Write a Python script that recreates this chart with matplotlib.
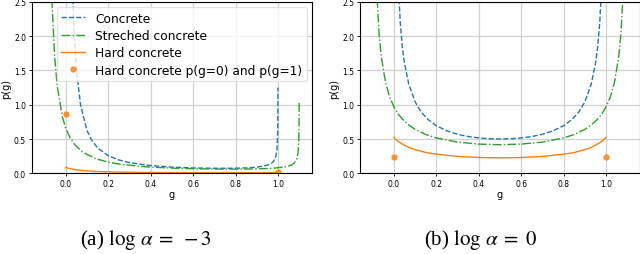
import matplotlib
matplotlib.use("Agg")
import matplotlib.pyplot as plt

plt.rcParams['font.family'] = ['DejaVu Sans']
plt.rcParams['mathtext.fontset'] = 'stix'

# ---------------- panel (a): log alpha = -3 ----------------
a_conc_g = [0.025, 0.03, 0.04, 0.05, 0.07, 0.10, 0.12, 0.15, 0.20, 0.25, 0.30, 0.40,
            0.50, 0.60, 0.70, 0.80, 0.85, 0.90, 0.95, 0.97, 0.98, 0.99, 0.995,
            0.998, 0.999, 0.9995, 0.9996]
a_conc_p = [3.71, 2.96, 2.05, 1.54, 1.00, 0.628, 0.496, 0.371, 0.258, 0.195, 0.156, 0.113,
            0.090, 0.078, 0.073, 0.074, 0.079, 0.089, 0.118, 0.148, 0.179, 0.250, 0.352,
            0.556, 0.785, 1.11, 1.25]

a_str_g = [-0.076, -0.07, -0.064, -0.052, -0.04, -0.016, 0.0, 0.02, 0.044, 0.08, 0.14,
           0.20, 0.26, 0.38, 0.50, 0.62, 0.74, 0.86, 0.92, 0.98, 1.04, 1.064, 1.076,
           1.088, 1.094, 1.0976, 1.0988, 1.0994, 1.0995]
a_str_p = [4.08, 3.09, 2.47, 1.71, 1.28, 0.83, 0.663, 0.523, 0.413, 0.309, 0.215,
           0.1625, 0.130, 0.094, 0.075, 0.065, 0.061, 0.062, 0.066, 0.074, 0.098, 0.123, 0.149,
           0.208, 0.293, 0.463, 0.654, 0.925, 1.03]

a_hard_g = [0.0, 0.02, 0.044, 0.08, 0.14, 0.20, 0.26, 0.38, 0.50, 0.62, 0.74, 0.86, 0.92, 0.98, 1.0]
a_hard_p = [0.085, 0.068, 0.054, 0.040, 0.028, 0.021, 0.017, 0.012, 0.0098, 0.0085,
            0.0079, 0.0080, 0.0085, 0.0097, 0.011]

a_pt_g = [0.0, 1.0]
a_pt_p = [0.86, 0.015]

# ---------------- panel (b): log alpha = 0 ----------------
b_conc_g = [0.015, 0.02, 0.03, 0.04, 0.05, 0.07, 0.10, 0.13, 0.16, 0.20, 0.25, 0.30, 0.35,
            0.40, 0.45, 0.50, 0.55, 0.60, 0.65, 0.70, 0.75, 0.80, 0.84, 0.87, 0.90,
            0.93, 0.95, 0.96, 0.97, 0.98, 0.985]
b_conc_p = [3.30, 2.80, 2.19, 1.83, 1.60, 1.30, 1.04, 0.888, 0.787, 0.694, 0.619, 0.569, 0.536,
            0.516, 0.504, 0.500, 0.504, 0.516, 0.536, 0.569, 0.619, 0.694, 0.787, 0.888, 1.04,
            1.30, 1.60, 1.83, 2.19, 2.80, 3.30]

b_str_g = [-0.085, -0.08, -0.07, -0.06, -0.04, -0.02, 0.0, 0.01, 0.02, 0.04, 0.07, 0.10, 0.15,
           0.20, 0.30, 0.40, 0.50, 0.60, 0.70, 0.80, 0.85, 0.90, 0.93, 0.96, 0.98, 0.99, 1.0,
           1.02, 1.04, 1.06, 1.07, 1.08, 1.085]
b_str_p = [3.07, 2.59, 2.03, 1.71, 1.33, 1.11, 0.971, 0.916, 0.867, 0.79, 0.704, 0.64, 0.566,
           0.516, 0.455, 0.426, 0.417, 0.426, 0.455, 0.516, 0.566, 0.64, 0.704, 0.79, 0.867,
           0.916, 0.971, 1.11, 1.33, 1.71, 2.03, 2.59, 3.07]

b_hard_g = [0.0, 0.01, 0.02, 0.04, 0.07, 0.10, 0.15, 0.20, 0.30, 0.40, 0.50, 0.60, 0.70,
            0.80, 0.85, 0.90, 0.93, 0.96, 0.98, 0.99, 1.0]
b_hard_p = [0.525, 0.491, 0.465, 0.427, 0.377, 0.346, 0.303, 0.279, 0.246, 0.230, 0.225,
            0.230, 0.246, 0.279, 0.303, 0.346, 0.377, 0.427, 0.465, 0.491, 0.525]

b_pt_g = [0.0, 1.0]
b_pt_p = [0.232, 0.232]

labels = ["Concrete", "Streched concrete", "Hard concrete", "Hard concrete p(g=0) and p(g=1)"]
captions = [r"(a) $\log\,\alpha\;=\;-3$", r"(b) $\log\,\alpha\;=\;0$"]
xticks = [0.0, 0.2, 0.4, 0.6, 0.8, 1.0]
yticks = [0.0, 0.5, 1.0, 1.5, 2.0, 2.5]

fig = plt.figure(figsize=(6.4, 2.55), dpi=100)
ax1 = fig.add_axes([0.0495, 0.3165, 0.438, 0.672])
ax2 = fig.add_axes([0.5625, 0.3165, 0.4375, 0.672])

panels = [
    (ax1, a_conc_g, a_conc_p, a_str_g, a_str_p, a_hard_g, a_hard_p, a_pt_g, a_pt_p),
    (ax2, b_conc_g, b_conc_p, b_str_g, b_str_p, b_hard_g, b_hard_p, b_pt_g, b_pt_p),
]
for ax, cg, cp, sg, sp, hg, hp, pg, pp in panels:
    ax.plot(cg, cp, '--', color='#1f77b4', lw=1.0, label=labels[0])
    ax.plot(sg, sp, '-.', color='#2ca02c', lw=1.0, label=labels[1])
    ax.plot(hg, hp, '-', color='#ff7f0e', lw=1.0, label=labels[2])
    ax.plot(pg, pp, 'o', color='#ff7f0e', ms=3.5, alpha=0.8, label=labels[3])
    ax.set_xlim(-0.16, 1.16)
    ax.set_ylim(0, 2.5)
    ax.set_xticks(xticks)
    ax.set_yticks(yticks)
    ax.tick_params(labelsize=5.5, length=2.5, width=0.6, pad=1.5)
    ax.grid(True, color='#d0d0d0', lw=0.9)
    ax.set_xlabel('g', fontsize=7, labelpad=1)
    ax.set_ylabel('p(g)', fontsize=7, labelpad=2)
    for s in ax.spines.values():
        s.set_linewidth(0.8)

ax1.legend(loc='upper right', fontsize=8.8, borderaxespad=0.45, handlelength=2.0,
           labelspacing=0.35, borderpad=0.35, framealpha=0.8, edgecolor='#dddddd')

fig.text(0.125, 0.058, captions[0], fontsize=15, family='Liberation Serif', ha='left', va='center')
fig.text(0.663, 0.058, captions[1], fontsize=15, family='Liberation Serif', ha='left', va='center')

fig.savefig('out.png', dpi=100)
